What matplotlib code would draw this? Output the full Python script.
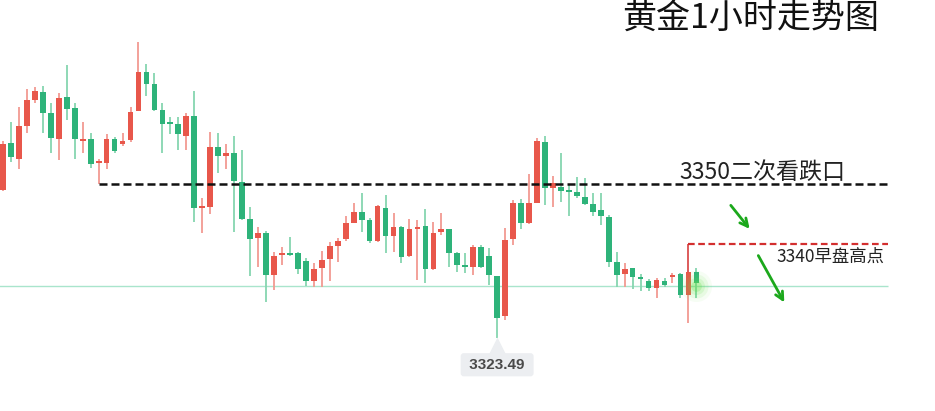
from matplotlib import pyplot as plt
import numpy as np

plt.rcParams['font.family'] = ['Noto Sans CJK SC', 'DejaVu Sans']

# hourly gold candles (open, high, low, close)
opens = [3349.0, 3357.1, 3354.3, 3360.0, 3364.5, 3365.8, 3362.2, 3357.7, 3365.0, 3363.1,
         3357.4, 3357.7, 3353.6, 3353.6, 3357.7, 3356.9, 3357.6, 3362.6, 3369.3, 3367.2,
         3362.7, 3360.7, 3360.3, 3358.3, 3361.7, 3345.9, 3346.0, 3356.4, 3354.8, 3355.3,
         3350.3, 3344.0, 3340.7, 3341.6, 3334.3, 3337.8, 3338.1, 3338.1, 3336.8, 3333.3,
         3335.5, 3337.1, 3339.3, 3340.5, 3343.3, 3345.2, 3343.8, 3340.2, 3345.9, 3341.1,
         3342.6, 3337.6, 3342.3, 3342.8, 3335.4, 3341.7, 3342.3, 3338.1, 3336.1, 3335.7,
         3339.2, 3337.6, 3334.2, 3327.3, 3340.5, 3346.7, 3343.3, 3346.7, 3357.2, 3349.3,
         3349.5, 3348.8, 3348.6, 3347.8, 3346.6, 3345.5, 3344.3, 3336.6, 3334.5, 3335.5,
         3334.0, 3333.3, 3332.1, 3333.3, 3334.0, 3334.5, 3330.9, 3334.9]
highs = [3357.4, 3360.7, 3363.3, 3366.4, 3366.7, 3366.9, 3363.9, 3365.7, 3370.5, 3363.9,
         3360.7, 3358.8, 3354.3, 3358.6, 3358.1, 3358.8, 3363.3, 3374.4, 3370.7, 3369.1,
         3363.9, 3361.5, 3361.5, 3362.2, 3366.0, 3347.6, 3359.0, 3358.8, 3356.9, 3358.3,
         3355.9, 3346.0, 3342.6, 3341.9, 3338.3, 3339.2, 3340.9, 3338.3, 3337.3, 3336.4,
         3338.5, 3340.0, 3340.7, 3344.5, 3346.7, 3348.5, 3344.2, 3346.4, 3348.1, 3345.0,
         3342.8, 3344.0, 3343.8, 3345.7, 3343.5, 3345.0, 3342.3, 3338.3, 3338.1, 3339.5,
         3339.5, 3339.0, 3334.2, 3342.4, 3347.3, 3347.4, 3351.7, 3357.9, 3358.3, 3351.4,
         3355.3, 3349.8, 3351.2, 3351.0, 3348.5, 3348.5, 3344.7, 3338.3, 3336.4, 3335.5,
         3334.5, 3333.7, 3333.8, 3333.8, 3334.7, 3334.7, 3334.9, 3335.5]
lows = [3348.8, 3353.8, 3352.6, 3358.8, 3363.9, 3358.8, 3355.3, 3354.1, 3361.0, 3354.3,
        3355.3, 3352.8, 3350.0, 3352.6, 3355.3, 3356.5, 3357.2, 3362.5, 3365.1, 3362.6,
        3355.3, 3358.6, 3355.9, 3355.9, 3343.5, 3341.6, 3344.8, 3351.9, 3352.6, 3341.7,
        3343.8, 3334.2, 3335.7, 3329.7, 3331.8, 3336.1, 3337.6, 3334.5, 3332.5, 3332.3,
        3332.3, 3333.3, 3336.6, 3340.2, 3343.3, 3341.7, 3339.9, 3340.0, 3338.1, 3338.3,
        3336.4, 3337.4, 3333.5, 3333.0, 3335.2, 3341.2, 3335.7, 3334.9, 3334.7, 3334.3,
        3335.5, 3332.6, 3323.49, 3326.6, 3339.5, 3342.3, 3343.1, 3346.7, 3346.4, 3346.0,
        3346.9, 3344.5, 3347.6, 3346.4, 3344.5, 3342.9, 3335.7, 3332.3, 3332.3, 3331.9,
        3331.6, 3331.6, 3330.4, 3332.3, 3333.0, 3330.4, 3326.1, 3330.4]
closes = [3356.9, 3354.6, 3360.0, 3364.5, 3366.0, 3362.2, 3357.9, 3364.8, 3362.9, 3357.7,
          3357.7, 3353.4, 3353.8, 3357.7, 3355.7, 3357.4, 3362.4, 3369.3, 3367.2, 3362.7,
          3360.3, 3360.3, 3358.6, 3361.7, 3345.9, 3346.0, 3356.4, 3354.8, 3355.3, 3350.5,
          3344.0, 3340.5, 3341.6, 3334.3, 3337.6, 3338.1, 3337.8, 3335.4, 3333.3, 3335.4,
          3336.9, 3339.3, 3340.2, 3343.3, 3345.2, 3343.8, 3340.2, 3346.2, 3341.1, 3342.6,
          3337.4, 3342.3, 3342.6, 3335.4, 3341.6, 3342.3, 3338.1, 3336.1, 3335.7, 3339.2,
          3335.7, 3334.3, 3326.9, 3340.4, 3346.7, 3343.3, 3346.7, 3357.4, 3349.3, 3350.2,
          3348.8, 3348.6, 3347.9, 3346.6, 3345.2, 3344.5, 3336.6, 3334.3, 3335.4, 3334.0,
          3333.7, 3332.1, 3333.5, 3332.6, 3334.3, 3330.9, 3334.9, 3333.0]

title = "黄金1小时走势图"
resist_level = 3350
resist_label = "3350二次看跌口"
morning_high = 3339.6
morning_label = "3340早盘高点"
current_price = 3332.45
low_label = "3323.49"

UP = '#e8574b'
DOWN = '#2eb37a'
UP_WICK = '#f29a92'
DOWN_WICK = '#86d5b0'


def draw_candles(ax):
    o = np.array(opens)
    h = np.array(highs)
    l = np.array(lows)
    c = np.array(closes)
    x = np.arange(len(o))
    up = c >= o
    body_low = np.minimum(o, c)
    body_h = np.maximum(np.abs(c - o), 0.35)
    ax.vlines(x[up], l[up], h[up], color=UP_WICK, lw=1.3, zorder=2)
    ax.vlines(x[~up], l[~up], h[~up], color=DOWN_WICK, lw=1.3, zorder=2)
    ax.bar(x[up], body_h[up], bottom=body_low[up], width=0.72, color=UP, zorder=3)
    ax.bar(x[~up], body_h[~up], bottom=body_low[~up], width=0.72, color=DOWN, zorder=3)
    return x


fig = plt.figure(figsize=(9.35, 4.11), dpi=100)
ax = fig.add_axes([0, 0, 1, 1])
x = draw_candles(ax)
n = len(x)
right = n + 23

# current price line and glow on the last candle
ax.hlines(current_price, -1, right, color='#a9e5cc', lw=1, zorder=1)
for s, a in [(500, 0.06), (300, 0.1), (150, 0.15), (60, 0.25)]:
    ax.scatter([x[-1]], [current_price], s=s, color='#66e04a', alpha=a, lw=0, zorder=4)

# 3350 resistance
start = int(np.argmin(np.abs(np.array(lows[:20]) - resist_level)))
ax.hlines(resist_level, start, right, color='#111111', lw=1.8, linestyles=(0, (3.2, 1.6)), zorder=5)
ax.text(84.9, resist_level + 1.9, resist_label, fontsize=16.6, color='#222222', va='center', ha='left')

# 3340 morning high
last_red = n - 2
ax.vlines(x[last_red], closes[last_red], morning_high, color='#d32f2f', lw=1.1, zorder=5)
ax.hlines(morning_high, x[last_red], right, color='#d32f2f', lw=1.6, linestyles=(0, (3, 1.6)), zorder=5)
ax.text(97.1, morning_high - 2.1, morning_label, fontsize=12.5, color='#222222', va='center', ha='left')

# arrows
arrow = dict(arrowstyle='->', color='#1ca81c', lw=2, mutation_scale=14)
ax.annotate('', xy=(93.9, 3341.9), xytext=(91.1, 3346.7), arrowprops=arrow)
ax.annotate('', xy=(98.2, 3329.2), xytext=(94.6, 3338.1), arrowprops=arrow)

# low price tag
low_i = int(np.argmin(lows))
ax.scatter([x[low_i]], [lows[low_i] - 1.3], marker='^', s=170, color='#eceef1', lw=0, zorder=5)
ax.text(x[low_i], lows[low_i] - 4.6, ' ' + low_label + ' ', fontsize=11, color='#4a4a4a', ha='center',
        va='center', family=['Liberation Sans', 'DejaVu Sans'], weight='bold',
        bbox=dict(boxstyle='round,pad=0.3,rounding_size=0.2', fc='#eceef1', ec='none'), zorder=6)

fig.text(751 / 935, 1 - 19 / 411, title, fontsize=24.5, color='#111111', ha='center', va='center')

ax.set_xlim(-0.376, 116.94)
ax.set_ylim(3310.93, 3381.67)
ax.axis('off')

plt.savefig('out.png', dpi=100)
